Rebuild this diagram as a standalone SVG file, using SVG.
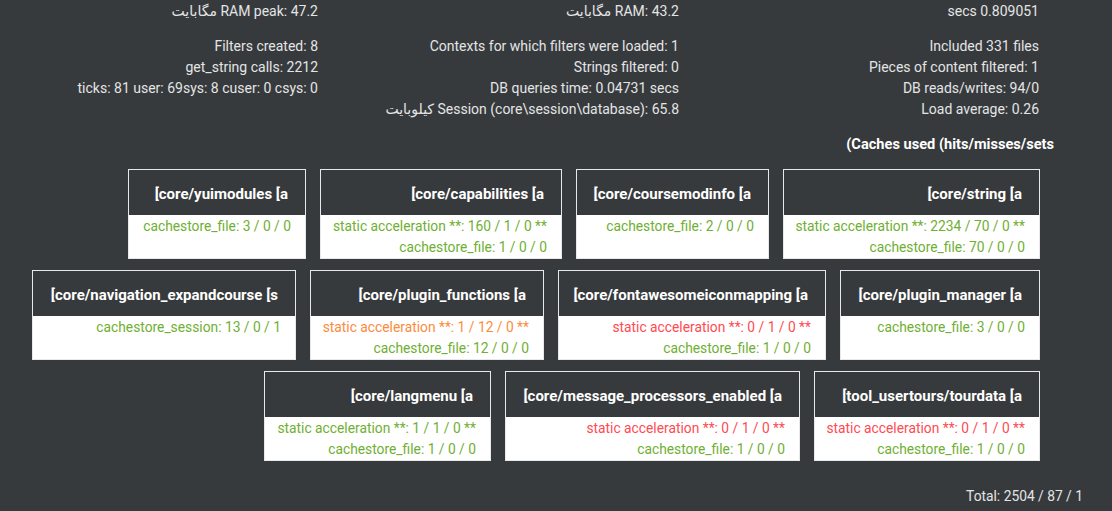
<svg xmlns="http://www.w3.org/2000/svg" width="1112" height="511" viewBox="0 0 1112 511">
<style>
text{font-family:Roboto,"DejaVu Sans","Noto Sans",sans-serif;font-size:14px;text-anchor:end}
.info{fill:#e3e5e6}
.hd{fill:#ffffff;font-weight:bold;font-size:15px}
.cap{fill:#ffffff;font-weight:bold;font-size:14.6px}
.tot{font-size:13.8px}
.g,.o,.r{font-size:13.8px}
.g{fill:#6faf32}
.o{fill:#fb8c3d}
.r{fill:#ff4a52}
.box{fill:#373a3c;stroke:#e6e8ea;stroke-width:1}
.body{fill:#ffffff}
</style>
<rect x="0" y="0" width="1112" height="511" fill="#373a3c"/>
<g id="info">
<text class="info" x="318" y="16">مگابایت RAM peak: 47.2</text>
<text class="info" x="679" y="16">مگابایت RAM: 43.2</text>
<text class="info" x="1039" y="16">secs 0.809051</text>
<text class="info" x="318" y="51">Filters created: 8</text>
<text class="info" x="318" y="72">get_string calls: 2212</text>
<text class="info" x="318" y="93">ticks: 81 user: 69sys: 8 cuser: 0 csys: 0</text>
<text class="info" x="679" y="51">Contexts for which filters were loaded: 1</text>
<text class="info" x="679" y="72">Strings filtered: 0</text>
<text class="info" x="679" y="93">DB queries time: 0.04731 secs</text>
<text class="info" x="679" y="114">کیلوبایت Session (core\session\database): 65.8</text>
<text class="info" x="1039" y="51">Included 331 files</text>
<text class="info" x="1039" y="72">Pieces of content filtered: 1</text>
<text class="info" x="1039" y="93">DB reads/writes: 94/0</text>
<text class="info" x="1039" y="114">Load average: 0.26</text>
<text class="cap" x="1054" y="149">(Caches used (hits/misses/sets</text>
<text class="info tot" x="1083" y="501">Total: 2504 / 87 / 1</text>
</g>
<g id="yuimodules">
<rect class="box" x="128.5" y="169.5" width="177" height="89"/>
<rect class="body" x="129" y="215" width="176" height="43"/>
<text class="hd" x="288" y="199">[core/yuimodules [a</text>
<text class="g" x="291" y="231">cachestore_file: 3 / 0 / 0</text>
</g>
<g id="capabilities">
<rect class="box" x="320.5" y="169.5" width="241" height="89"/>
<rect class="body" x="321" y="215" width="240" height="43"/>
<text class="hd" x="544" y="199">[core/capabilities [a</text>
<text class="g" x="547" y="231">static acceleration **: 160 / 1 / 0 **</text>
<text class="g" x="547" y="252">cachestore_file: 1 / 0 / 0</text>
</g>
<g id="coursemodinfo">
<rect class="box" x="576.5" y="169.5" width="192" height="89"/>
<rect class="body" x="577" y="215" width="191" height="43"/>
<text class="hd" x="751" y="199">[core/coursemodinfo [a</text>
<text class="g" x="754" y="231">cachestore_file: 2 / 0 / 0</text>
</g>
<g id="string">
<rect class="box" x="783.5" y="169.5" width="256" height="89"/>
<rect class="body" x="784" y="215" width="255" height="43"/>
<text class="hd" x="1022" y="199">[core/string [a</text>
<text class="g" x="1025" y="231">static acceleration **: 2234 / 70 / 0 **</text>
<text class="g" x="1025" y="252">cachestore_file: 70 / 0 / 0</text>
</g>
<g id="navigation_expandcourse">
<rect class="box" x="32.5" y="270.5" width="263" height="89"/>
<rect class="body" x="33" y="316" width="262" height="43"/>
<text class="hd" x="278" y="300">[core/navigation_expandcourse [s</text>
<text class="g" x="281" y="332">cachestore_session: 13 / 0 / 1</text>
</g>
<g id="plugin_functions">
<rect class="box" x="310.5" y="270.5" width="233" height="89"/>
<rect class="body" x="311" y="316" width="232" height="43"/>
<text class="hd" x="526" y="300">[core/plugin_functions [a</text>
<text class="o" x="529" y="332">static acceleration **: 1 / 12 / 0 **</text>
<text class="g" x="529" y="353">cachestore_file: 12 / 0 / 0</text>
</g>
<g id="fontawesomeiconmapping">
<rect class="box" x="558.5" y="270.5" width="267" height="89"/>
<rect class="body" x="559" y="316" width="266" height="43"/>
<text class="hd" x="808" y="300">[core/fontawesomeiconmapping [a</text>
<text class="r" x="811" y="332">static acceleration **: 0 / 1 / 0 **</text>
<text class="g" x="811" y="353">cachestore_file: 1 / 0 / 0</text>
</g>
<g id="plugin_manager">
<rect class="box" x="840.5" y="270.5" width="199" height="89"/>
<rect class="body" x="841" y="316" width="198" height="43"/>
<text class="hd" x="1022" y="300">[core/plugin_manager [a</text>
<text class="g" x="1025" y="332">cachestore_file: 3 / 0 / 0</text>
</g>
<g id="langmenu">
<rect class="box" x="264.5" y="371.5" width="226" height="89"/>
<rect class="body" x="265" y="417" width="225" height="43"/>
<text class="hd" x="473" y="401">[core/langmenu [a</text>
<text class="g" x="476" y="433">static acceleration **: 1 / 1 / 0 **</text>
<text class="g" x="476" y="454">cachestore_file: 1 / 0 / 0</text>
</g>
<g id="message_processors_enabled">
<rect class="box" x="505.5" y="371.5" width="294" height="89"/>
<rect class="body" x="506" y="417" width="293" height="43"/>
<text class="hd" x="782" y="401">[core/message_processors_enabled [a</text>
<text class="r" x="785" y="433">static acceleration **: 0 / 1 / 0 **</text>
<text class="g" x="785" y="454">cachestore_file: 1 / 0 / 0</text>
</g>
<g id="tourdata">
<rect class="box" x="814.5" y="371.5" width="225" height="89"/>
<rect class="body" x="815" y="417" width="224" height="43"/>
<text class="hd" x="1022" y="401">[tool_usertours/tourdata [a</text>
<text class="r" x="1025" y="433">static acceleration **: 0 / 1 / 0 **</text>
<text class="g" x="1025" y="454">cachestore_file: 1 / 0 / 0</text>
</g>
<g id="connectors"></g>
</svg>
